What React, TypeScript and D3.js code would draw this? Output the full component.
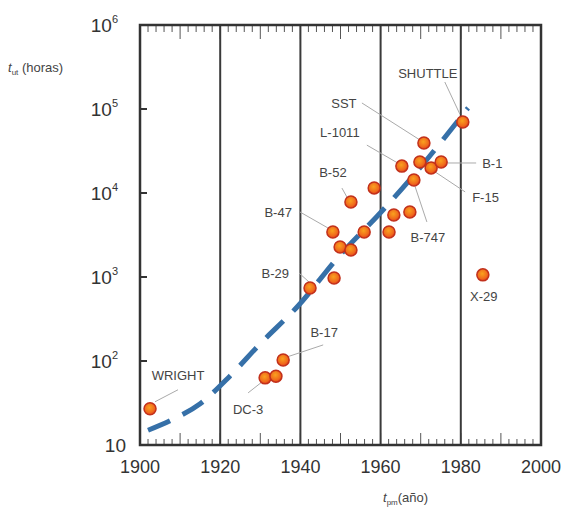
import React from "react";
import * as d3 from "d3";

// aircraft: introduction year vs. hours (log)
const pointYears = [1902.5, 1931.2, 1933.9, 1935.7, 1942.4, 1948.4, 1949.9, 1952.6, 1948.1, 1955.9, 1952.6, 1958.4, 1962.1, 1963.3, 1967.3, 1968.3, 1965.3, 1969.8, 1972.6, 1975.1, 1970.8, 1980.5, 1985.5];
const pointHours = [27, 63, 66, 103, 740, 973, 2280, 2100, 3440, 3440, 7800, 11500, 3440, 5470, 5940, 14300, 20900, 23400, 19900, 23400, 39400, 70000, 1060];
const pointNames = ["WRIGHT", "DC-3", "", "B-17", "B-29", "", "", "", "B-47", "", "B-52", "", "", "", "", "B-747", "L-1011", "", "F-15", "B-1", "SST", "SHUTTLE", "X-29"];

const trendYears = [1902, 1908, 1915, 1922.4, 1929.9, 1939.4, 1949.9, 1959.9, 1969.8, 1981.8];
const trendHours = [15, 20, 31, 66, 159, 452, 1830, 5780, 19900, 103000];

const xTicks = [1900, 1920, 1940, 1960, 1980, 2000];
const yTicks = [10, 100, 1000, 10000, 100000, 1000000];
const dividers = [1920, 1940, 1960, 1980];

// label layout: text offset (tx, ty), anchor, leader line offsets from point
const LABEL_LAYOUT: Record<string, { tx: number; ty: number; anchor: string; line?: number[] }> = {
  WRIGHT: { tx: 28, ty: -29, anchor: "middle", line: [5, -7, 28, -19] },
  "DC-3": { tx: -17, ty: 36, anchor: "middle", line: [-3, 4, -17, 15] },
  "B-17": { tx: 41, ty: -23, anchor: "middle", line: [4, -3, 40, -15] },
  "B-29": { tx: -21, ty: -10, anchor: "end", line: [-11, -15, -1, -6] },
  "B-47": { tx: -41, ty: -15, anchor: "end", line: [-33, -20, -5, -4] },
  "B-52": { tx: -18, ty: -25, anchor: "middle", line: [-9, -14, -4, -5] },
  "L-1011": { tx: -62, ty: -29, anchor: "middle", line: [-35, -21, -4, -3] },
  SST: { tx: -80, ty: -35, anchor: "middle", line: [-62, -40, -4, -3] },
  SHUTTLE: { tx: -35, ty: -44, anchor: "middle", line: [-18, -40, -3, -8] },
  "B-1": { tx: 41, ty: 6, anchor: "start", line: [6, 1, 35, 1] },
  "F-15": { tx: 41, ty: 34, anchor: "start", line: [4, 4, 34, 24] },
  "B-747": { tx: 14, ty: 62, anchor: "middle", line: [1, 6, 13, 42] },
  "X-29": { tx: 1, ty: 26, anchor: "middle" },
};

const W = 562;
const H = 514;
const LEFT = 140;
const RIGHT = 541;
const TOP = 25;
const BOTTOM = 445;
const FONT = "'Liberation Sans', Arial, sans-serif";

export default function App() {
  const x = d3.scaleLinear().domain([1900, 2000]).range([LEFT, RIGHT]);
  const y = d3.scaleLog().domain([10, 1e6]).range([BOTTOM, TOP]);

  const trend = d3
    .line<number>()
    .x((d) => x(trendYears[d]))
    .y((d) => y(trendHours[d]))
    .curve(d3.curveMonotoneX)(d3.range(trendYears.length));

  const minorYears = d3.range(1902, 2000, 2);

  return (
    <svg width={W} height={H} style={{ position: "absolute", left: 0, top: 0, background: "#fff" }} fontFamily={FONT}>
      <defs>
        <radialGradient id="dot" cx="45%" cy="40%" r="60%">
          <stop offset="0%" stopColor="#f9a21f" />
          <stop offset="70%" stopColor="#f06a1c" />
          <stop offset="100%" stopColor="#e2401a" />
        </radialGradient>
      </defs>

      {/* minor ticks top & bottom */}
      {minorYears.map((yr) => {
        const big = yr % 10 === 0;
        return (
          <g key={yr} stroke="#555" strokeWidth={1}>
            <line x1={x(yr)} x2={x(yr)} y1={BOTTOM} y2={BOTTOM - (big ? 12 : 6)} />
            <line x1={x(yr)} x2={x(yr)} y1={TOP} y2={TOP + (big ? 14 : 7)} />
          </g>
        );
      })}
      {yTicks.map((t) => (
        <line key={t} x1={LEFT} x2={LEFT + 7} y1={y(t)} y2={y(t)} stroke="#333" strokeWidth={2} />
      ))}

      {dividers.map((d) => (
        <line key={d} x1={x(d)} x2={x(d)} y1={TOP} y2={BOTTOM} stroke="#3a3a3a" strokeWidth={2} />
      ))}
      <rect x={LEFT} y={TOP} width={RIGHT - LEFT} height={BOTTOM - TOP} fill="none" stroke="#333" strokeWidth={2.5} />

      {/* tick labels */}
      {xTicks.map((t) => (
        <text key={t} x={x(t)} y={BOTTOM + 28} textAnchor="middle" fontSize={18} fill="#333">
          {t}
        </text>
      ))}
      {yTicks.map((t) => {
        const e = Math.round(Math.log10(t));
        return (
          <text key={t} x={e === 1 ? 126 : 118} y={y(t) + 7} textAnchor="end" fontSize={19} fill="#333">
            10
            {e > 1 && (
              <tspan fontSize={11} dy={-9}>
                {e}
              </tspan>
            )}
          </text>
        );
      })}

      {/* axis titles */}
      <text x={8} y={72} fontSize={13} fill="#444">
        <tspan fontStyle="italic">t</tspan>
        <tspan fontSize={8} dy={3}>ut</tspan>
        <tspan dy={-3}> (horas)</tspan>
      </text>
      <text x={383} y={502} fontSize={13} fill="#444">
        <tspan fontStyle="italic">t</tspan>
        <tspan fontSize={8} dy={3}>pm</tspan>
        <tspan dy={-3}>(año)</tspan>
      </text>

      {/* trend */}
      <path d={trend ?? ""} fill="none" stroke="#3670a8" strokeWidth={5} strokeDasharray="24 14" />

      {/* leader lines */}
      {pointNames.map((n, i) => {
        const lay = LABEL_LAYOUT[n];
        if (!n || !lay || !lay.line) return null;
        const px = x(pointYears[i]);
        const py = y(pointHours[i]);
        return (
          <line
            key={"l" + i}
            x1={px + lay.line[0]}
            y1={py + lay.line[1]}
            x2={px + lay.line[2]}
            y2={py + lay.line[3]}
            stroke="#aaa"
            strokeWidth={1}
          />
        );
      })}

      {/* points */}
      {pointYears.map((yr, i) => (
        <circle key={"p" + i} cx={x(yr)} cy={y(pointHours[i])} r={6} fill="url(#dot)" stroke="#c2301b" strokeWidth={1.5} />
      ))}

      {/* labels */}
      {pointNames.map((n, i) => {
        const lay = LABEL_LAYOUT[n];
        if (!n || !lay) return null;
        return (
          <text
            key={"t" + i}
            x={x(pointYears[i]) + lay.tx}
            y={y(pointHours[i]) + lay.ty}
            textAnchor={lay.anchor}
            fontSize={13}
            fill="#444"
          >
            {n}
          </text>
        );
      })}
    </svg>
  );
}
